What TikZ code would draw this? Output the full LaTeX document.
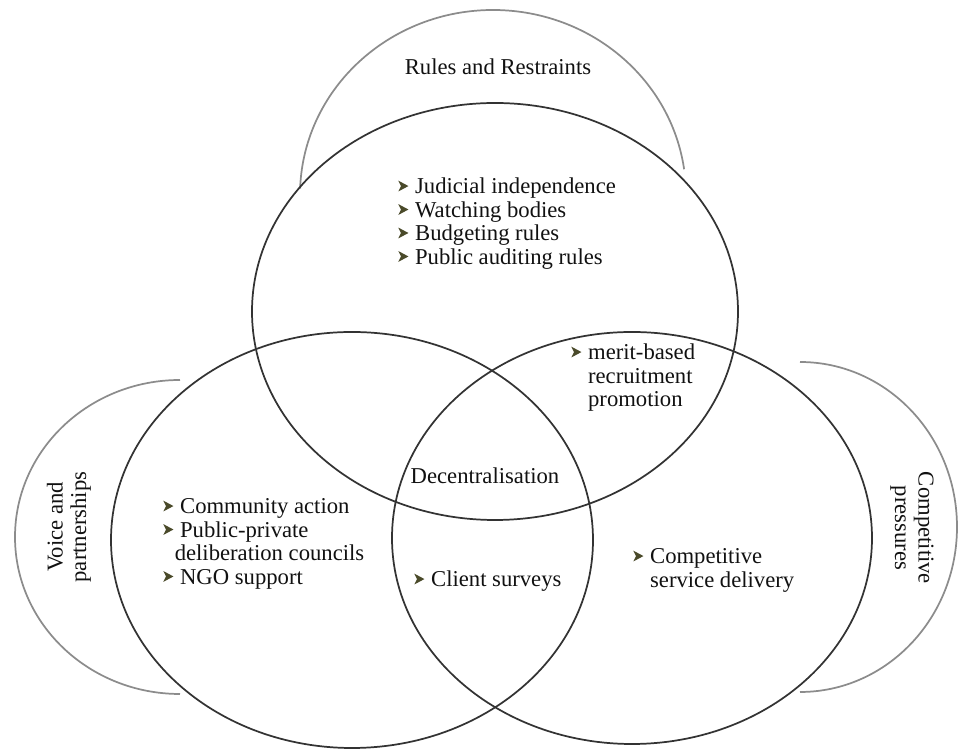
\documentclass[tikz,border=0pt]{standalone}
\usepackage{fontspec}
\setmainfont{Liberation Serif}
\definecolor{ringcol}{HTML}{333333}
\definecolor{outercol}{HTML}{8C8C8C}
\definecolor{bulcol}{HTML}{4A4A2A}
\definecolor{txtcol}{HTML}{111111}
\newcommand\mybul{\tikz[baseline=-0.35em]{\fill[bulcol] (0,0.24em) -- (0.45em,0) -- (0,-0.24em) -- (0.12em,0) -- cycle;}}
\begin{document}
\begin{tikzpicture}[x=0.75pt,y=0.75pt,
  ring/.style={draw=ringcol,line width=1.3pt},
  outer/.style={draw=outercol,line width=1.3pt},
  lbl/.style={text=txtcol,inner sep=0pt,font=\fontsize{17}{17.6}\selectfont},
  lst/.style={lbl,anchor=base west}]
\useasboundingbox (0,0) rectangle (958,749);
% outer arcs
\draw[outer] ([shift={(178:193 and 185)}]493,554) arc[start angle=178,end angle=8,x radius=193,y radius=185];
\draw[outer] ([shift={(90:165 and 157)}]180,212) arc[start angle=90,end angle=270,x radius=165,y radius=157];
\draw[outer] ([shift={(90:157 and 165)}]800,222) arc[start angle=90,end angle=-90,x radius=157,y radius=165];
% main ellipses
\draw[ring] (495,437.5) ellipse[x radius=243,y radius=208.5];
\draw[ring] (352,209) ellipse[x radius=241,y radius=208];
\draw[ring] (632,211) ellipse[x radius=240,y radius=206];
% labels
\node[lbl,anchor=base] (rules) at (498,674) {Rules and Restraints};
\node[lbl,rotate=90,align=center] (voice) at (69,222) {Voice and\\partnerships};
\node[lbl,rotate=-90,align=center] (comp) at (912,221) {Competitive\\pressures};
\node[lst] (toplist) at (398,555) {\begin{tabular}[t]{@{}l@{\hspace{5pt}}l@{}}
\mybul & Judicial independence\\
\mybul & Watching bodies\\
\mybul & Budgeting rules\\
\mybul & Public auditing rules
\end{tabular}};
\node[lst] (leftlist) at (163,235) {\begin{tabular}[t]{@{}l@{\hspace{5pt}}l@{}}
\mybul & Community action\\
\mybul & Public-private\\
 & \hspace{-4pt}deliberation councils\\
\mybul & NGO support
\end{tabular}};
\node[lst] (merit) at (571,389) {\begin{tabular}[t]{@{}l@{\hspace{5pt}}l@{}}
\mybul & merit-based\\
 & recruitment\\
 & promotion
\end{tabular}};
\node[lst] (service) at (633,185) {\begin{tabular}[t]{@{}l@{\hspace{5pt}}l@{}}
\mybul & Competitive\\
 & service delivery
\end{tabular}};
\node[lst] (client) at (414,162) {\mybul\hspace{5pt}Client surveys};
\node[lbl,anchor=base] (decent) at (485,265) {Decentralisation};
\end{tikzpicture}
\end{document}
